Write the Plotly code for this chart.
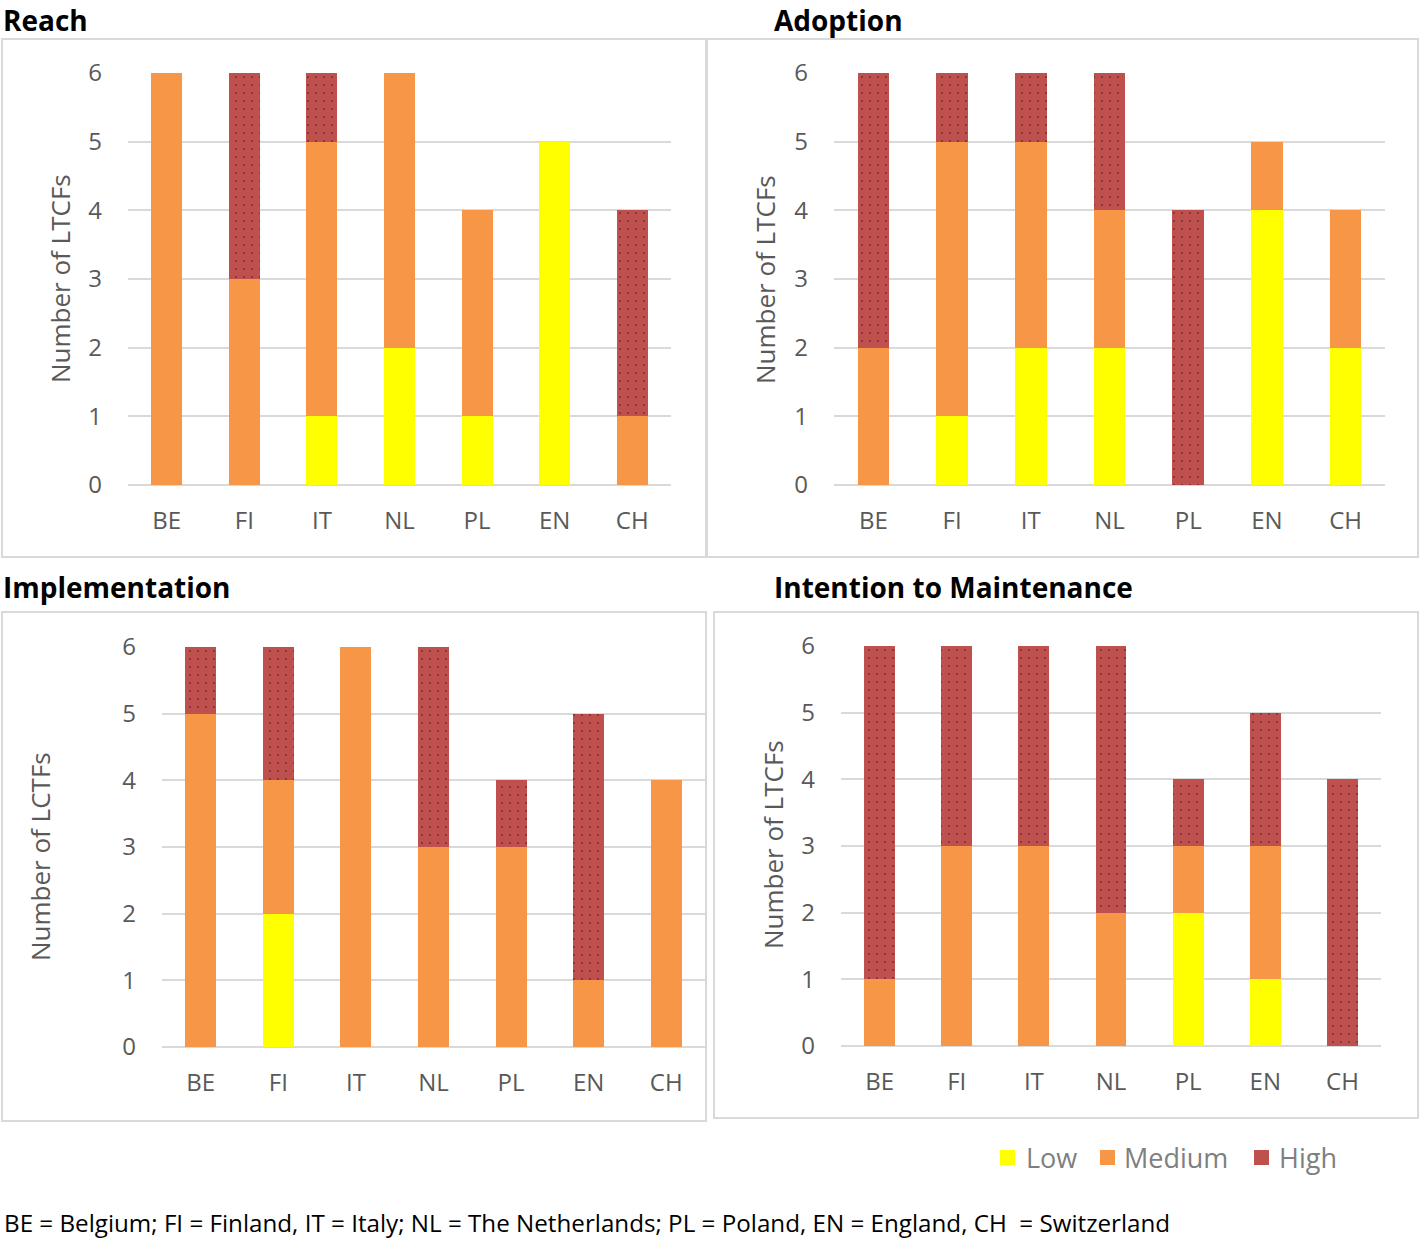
import plotly.graph_objects as go

countries = ["BE", "FI", "IT", "NL", "PL", "EN", "CH"]
panel_titles = ["Reach", "Adoption", "Implementation", "Intention to Maintenance"]
y_titles = ["Number of LTCFs", "Number of LTCFs", "Number of LCTFs", "Number of LTCFs"]
y_ticks = [0, 1, 2, 3, 4, 5, 6]
level_names = ["Low", "Medium", "High"]

reach_low = [0, 0, 1, 2, 1, 5, 0]
reach_medium = [6, 3, 4, 4, 3, 0, 1]
reach_high = [0, 3, 1, 0, 0, 0, 3]

adoption_low = [0, 1, 2, 2, 0, 4, 2]
adoption_medium = [2, 4, 3, 2, 0, 1, 2]
adoption_high = [4, 1, 1, 2, 4, 0, 0]

implementation_low = [0, 2, 0, 0, 0, 0, 0]
implementation_medium = [5, 2, 6, 3, 3, 1, 4]
implementation_high = [1, 2, 0, 3, 1, 4, 0]

maintenance_low = [0, 0, 0, 0, 2, 1, 0]
maintenance_medium = [1, 3, 3, 2, 1, 2, 0]
maintenance_high = [5, 3, 3, 4, 1, 2, 4]

panels = [
    (reach_low, reach_medium, reach_high),
    (adoption_low, adoption_medium, adoption_high),
    (implementation_low, implementation_medium, implementation_high),
    (maintenance_low, maintenance_medium, maintenance_high),
]

W, H = 1420, 1239
LOW_C, MED_C, HIGH_C = "#FFFF00", "#F79646", "#C0504D"
GRID = "#D9D9D9"
TXT = "#595959"
FONT = "Open Sans"

# pixel geometry: (x0, x1, y_top(6), y_bottom(0))
geo = [
    (128, 671, 73, 485),
    (834, 1385, 73, 485),
    (162, 705, 647, 1047),
    (841, 1381, 646, 1046),
]
boxes = [(2, 39, 706, 557), (707, 39, 1418, 557), (2, 612, 706, 1121), (714, 612, 1418, 1118)]
# (x, top of text box)
title_pos = [(2, 0), (773, 0), (2, 567), (773, 567)]
ytitle_pos = [(60, 279), (765, 279), (40, 857), (773, 845)]

def px(x):
    return x / W

def py(y):
    return 1 - y / H

fig = go.Figure()
colors = [LOW_C, MED_C, HIGH_C]

for i, vals in enumerate(panels):
    ax = "" if i == 0 else str(i + 1)
    for j in range(3):
        marker = dict(color=colors[j], line=dict(width=0))
        if j == 2:
            marker["pattern"] = dict(shape=".", fgcolor="#1e1e1e", size=8, solidity=0.06, bgcolor=HIGH_C)
        fig.add_trace(go.Bar(
            x=countries, y=vals[j], name=level_names[j], marker=marker,
            xaxis="x" + ax, yaxis="y" + ax, showlegend=False,
        ))
    x0, x1, yt, yb = geo[i]
    fig.layout["xaxis" + ax] = dict(
        domain=[px(x0), px(x1)], anchor="y" + ax, showgrid=False, showline=False,
        ticks="", tickfont=dict(size=24, color=TXT, family=FONT), ticklabelstandoff=19,
        range=[-0.5, 6.5], type="category", fixedrange=True, automargin=False,
    )
    fig.layout["yaxis" + ax] = dict(
        domain=[py(yb), py(yt)], anchor="x" + ax, range=[0, 6], tickvals=y_ticks,
        showgrid=True, gridcolor=GRID, gridwidth=2, zeroline=True, zerolinecolor=GRID,
        zerolinewidth=2, showline=False, ticks="", ticklabelstandoff=25,
        tickfont=dict(size=24, color=TXT, family=FONT), fixedrange=True, automargin=False,
    )
    bx0, by0, bx1, by1 = boxes[i]
    fig.add_shape(type="rect", xref="paper", yref="paper",
                  x0=px(bx0), x1=px(bx1), y0=py(by1), y1=py(by0),
                  line=dict(color=GRID, width=2), fillcolor="rgba(0,0,0,0)", layer="below")
    tx, ty = title_pos[i]
    fig.add_annotation(text="<b>%s</b>" % panel_titles[i], xref="paper", yref="paper",
                       x=px(tx), y=py(ty), xanchor="left", yanchor="top", showarrow=False,
                       borderpad=0, font=dict(size=28, color="#000000", family=FONT))
    yx, yy = ytitle_pos[i]
    fig.add_annotation(text=y_titles[i], xref="paper", yref="paper", textangle=-90,
                       x=px(yx), y=py(yy), xanchor="center", yanchor="middle", showarrow=False,
                       font=dict(size=26, color=TXT, family=FONT))

# manual legend
legend_sq = [1000, 1100, 1254]
legend_txt = [1024, 1122, 1277]
for k in range(3):
    fig.add_shape(type="rect", xref="paper", yref="paper",
                  x0=px(legend_sq[k]), x1=px(legend_sq[k] + 15),
                  y0=py(1165), y1=py(1150), fillcolor=colors[k], line=dict(width=0))
    fig.add_annotation(text=level_names[k], xref="paper", yref="paper",
                       x=px(legend_txt[k]), y=py(1157), xanchor="left", yanchor="middle",
                       showarrow=False, font=dict(size=27, color="#7F7F7F", family=FONT))

fig.add_annotation(
    text="BE = Belgium; FI = Finland, IT = Italy; NL = The Netherlands; PL = Poland, EN = England, CH  = Switzerland",
    xref="paper", yref="paper", x=px(2), y=py(1222), xanchor="left", yanchor="middle",
    showarrow=False, font=dict(size=24.2, color="#000000", family=FONT))

fig.update_layout(
    width=W, height=H, margin=dict(l=0, r=0, t=0, b=0, pad=0),
    paper_bgcolor="white", plot_bgcolor="rgba(0,0,0,0)",
    barmode="stack", bargap=0.6, showlegend=False,
    font=dict(family=FONT, color=TXT),
)

fig.write_html("out.html", config={"displayModeBar": False},
               post_script="document.body.style.margin='0';document.body.style.overflow='hidden';")
